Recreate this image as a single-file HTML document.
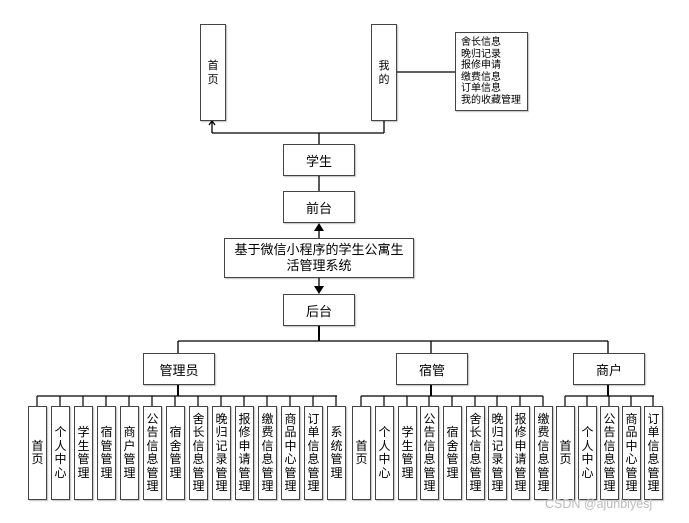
<!DOCTYPE html>
<html><head><meta charset="utf-8">
<style>
html,body{margin:0;padding:0;background:#fff;}
#c{position:relative;width:689px;height:523px;overflow:hidden;font-family:"Liberation Sans","Noto Sans CJK SC",sans-serif;color:#000;}
.b{position:absolute;border:1.5px solid #444;box-sizing:border-box;background:#fff;box-shadow:1px 1px 1px rgba(0,0,0,0.25);display:flex;align-items:center;justify-content:center;text-align:center;}
.h{font-size:13px;}
.v{top:406px;width:19px;height:94px;font-size:12px;line-height:13.5px;}
svg{position:absolute;left:0;top:0;}
.wm{position:absolute;left:545px;top:497px;font-size:12.5px;color:#bbb;}
</style></head><body><div id="c">
<svg width="689" height="523">
<g stroke="#000" stroke-width="1.3" fill="none">
<!-- top -->
<line x1="212" y1="133" x2="384" y2="133"/>
<line x1="212" y1="133" x2="212" y2="121"/>
<polyline points="209,125 212,121 215,125"/>
<line x1="384" y1="133" x2="384" y2="120"/>
<line x1="319" y1="133" x2="319" y2="144"/>
<line x1="397" y1="72" x2="455" y2="72"/>
<line x1="319" y1="176" x2="319" y2="191"/>
<line x1="319" y1="238" x2="319" y2="230"/>
<line x1="319" y1="278" x2="319" y2="286"/>
<line x1="319" y1="326" x2="319" y2="341" stroke-width="2"/>
<line x1="178" y1="341" x2="608" y2="341"/>
<line x1="178" y1="341" x2="178" y2="353"/>
<line x1="431" y1="341" x2="431" y2="353"/>
<line x1="608" y1="341" x2="608" y2="353"/>
<!-- groups -->
<line x1="178" y1="385" x2="178" y2="396" stroke-width="2"/>
<line x1="37" y1="396" x2="337" y2="396"/>
<line x1="431" y1="385" x2="431" y2="396" stroke-width="2"/>
<line x1="361" y1="396" x2="543" y2="396"/>
<line x1="608" y1="385" x2="608" y2="396" stroke-width="2"/>
<line x1="565" y1="396" x2="654" y2="396"/>
</g>
<polygon points="319,223 314,231 324,231" fill="#000"/>
<polygon points="319,294 314,286 324,286" fill="#000"/>
<g stroke="#000" stroke-width="1.2">
<line x1="37" y1="396" x2="37" y2="406"/><line x1="60" y1="396" x2="60" y2="406"/><line x1="83" y1="396" x2="83" y2="406"/><line x1="106" y1="396" x2="106" y2="406"/><line x1="129" y1="396" x2="129" y2="406"/><line x1="152" y1="396" x2="152" y2="406"/><line x1="175" y1="396" x2="175" y2="406"/><line x1="198" y1="396" x2="198" y2="406"/><line x1="221" y1="396" x2="221" y2="406"/><line x1="244" y1="396" x2="244" y2="406"/><line x1="267" y1="396" x2="267" y2="406"/><line x1="290" y1="396" x2="290" y2="406"/><line x1="313" y1="396" x2="313" y2="406"/><line x1="336" y1="396" x2="336" y2="406"/>
<line x1="361" y1="396" x2="361" y2="406"/><line x1="384" y1="396" x2="384" y2="406"/><line x1="407" y1="396" x2="407" y2="406"/><line x1="429" y1="396" x2="429" y2="406"/><line x1="452" y1="396" x2="452" y2="406"/><line x1="475" y1="396" x2="475" y2="406"/><line x1="497" y1="396" x2="497" y2="406"/><line x1="520" y1="396" x2="520" y2="406"/><line x1="543" y1="396" x2="543" y2="406"/>
<line x1="565" y1="396" x2="565" y2="406"/><line x1="587" y1="396" x2="587" y2="406"/><line x1="609" y1="396" x2="609" y2="406"/><line x1="631" y1="396" x2="631" y2="406"/><line x1="653" y1="396" x2="653" y2="406"/>
</g>
</svg>

<div class="b" style="left:200px;top:24px;width:26px;height:97px;font-size:11px;line-height:14px;">首<br>页</div>
<div class="b" style="left:371px;top:24px;width:26px;height:97px;font-size:11px;line-height:14px;">我<br>的</div>
<div class="b" style="left:455px;top:32px;width:73px;height:79px;font-size:10px;line-height:11.5px;justify-content:flex-start;text-align:left;padding-left:5px;">舍长信息<br>晚归记录<br>报修申请<br>缴费信息<br>订单信息<br>我的收藏管理</div>

<div class="b h" style="left:283px;top:144px;width:72px;height:32px;">学生</div>
<div class="b h" style="left:283px;top:191px;width:72px;height:32px;">前台</div>
<div class="b h" style="left:224px;top:238px;width:190px;height:40px;line-height:16px;">基于微信小程序的学生公寓生<br>活管理系统</div>
<div class="b h" style="left:283px;top:294px;width:72px;height:32px;">后台</div>
<div class="b h" style="left:143px;top:353px;width:72px;height:32px;">管理员</div>
<div class="b h" style="left:396px;top:353px;width:72px;height:32px;">宿管</div>
<div class="b h" style="left:573px;top:353px;width:72px;height:32px;">商户</div>

<div class="b v" style="left:28px">首<br>页</div>
<div class="b v" style="left:51px">个<br>人<br>中<br>心</div>
<div class="b v" style="left:74px">学<br>生<br>管<br>理</div>
<div class="b v" style="left:97px">宿<br>管<br>管<br>理</div>
<div class="b v" style="left:120px">商<br>户<br>管<br>理</div>
<div class="b v" style="left:143px">公<br>告<br>信<br>息<br>管<br>理</div>
<div class="b v" style="left:166px">宿<br>舍<br>管<br>理</div>
<div class="b v" style="left:189px">舍<br>长<br>信<br>息<br>管<br>理</div>
<div class="b v" style="left:212px">晚<br>归<br>记<br>录<br>管<br>理</div>
<div class="b v" style="left:235px">报<br>修<br>申<br>请<br>管<br>理</div>
<div class="b v" style="left:258px">缴<br>费<br>信<br>息<br>管<br>理</div>
<div class="b v" style="left:281px">商<br>品<br>中<br>心<br>管<br>理</div>
<div class="b v" style="left:304px">订<br>单<br>信<br>息<br>管<br>理</div>
<div class="b v" style="left:327px">系<br>统<br>管<br>理</div>

<div class="b v" style="left:352px">首<br>页</div>
<div class="b v" style="left:375px">个<br>人<br>中<br>心</div>
<div class="b v" style="left:398px">学<br>生<br>管<br>理</div>
<div class="b v" style="left:420px">公<br>告<br>信<br>息<br>管<br>理</div>
<div class="b v" style="left:443px">宿<br>舍<br>管<br>理</div>
<div class="b v" style="left:466px">舍<br>长<br>信<br>息<br>管<br>理</div>
<div class="b v" style="left:488px">晚<br>归<br>记<br>录<br>管<br>理</div>
<div class="b v" style="left:511px">报<br>修<br>申<br>请<br>管<br>理</div>
<div class="b v" style="left:534px">缴<br>费<br>信<br>息<br>管<br>理</div>

<div class="b v" style="left:556px">首<br>页</div>
<div class="b v" style="left:578px">个<br>人<br>中<br>心</div>
<div class="b v" style="left:600px">公<br>告<br>信<br>息<br>管<br>理</div>
<div class="b v" style="left:622px">商<br>品<br>中<br>心<br>管<br>理</div>
<div class="b v" style="left:644px">订<br>单<br>信<br>息<br>管<br>理</div>

<div class="wm">CSDN @ajunbiyesj</div>
</div></body></html>
